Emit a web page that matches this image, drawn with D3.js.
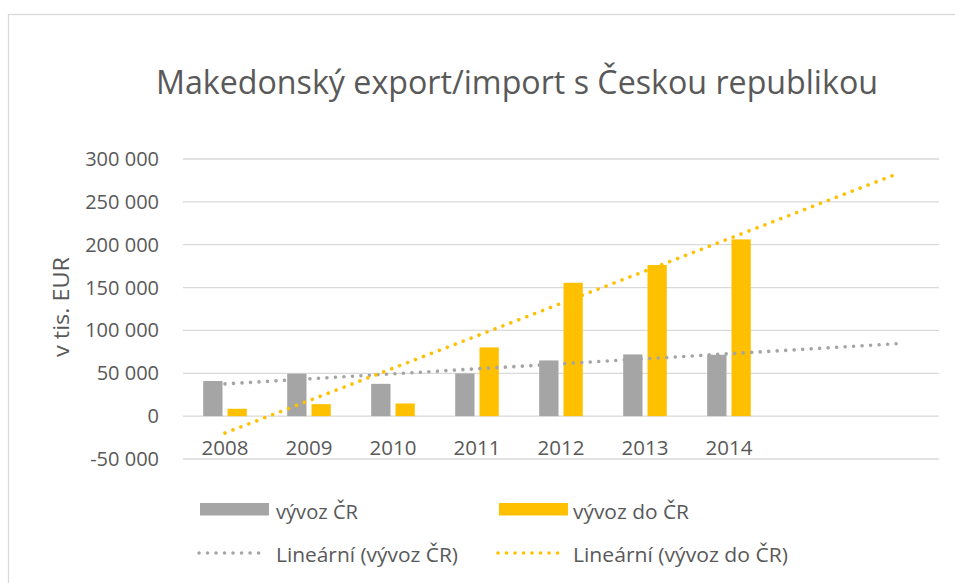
<!DOCTYPE html>
<html>
<head>
<meta charset="utf-8">
<script src="https://cdn.jsdelivr.net/npm/d3@7"></script>
<style>
  html, body { margin: 0; padding: 0; background: #ffffff; }
  svg { display: block; }
  text { font-family: "Open Sans", "DejaVu Sans", sans-serif; fill: #595959; }
</style>
</head>
<body>
<svg id="chart" width="955" height="583"></svg>
<script>
// ---- data ----
const years = ["2008", "2009", "2010", "2011", "2012", "2013", "2014"];
const exportCZ = [41000, 49500, 37700, 49800, 65000, 72000, 71600];      // vývoz ČR
const exportToCZ = [8600, 14000, 14800, 80200, 155600, 176300, 206200];  // vývoz do ČR
const forecastPeriods = 2;
const yTicks = [-50000, 0, 50000, 100000, 150000, 200000, 250000, 300000];
const titleText = "Makedonský export/import s Českou republikou";
const yAxisTitle = "v tis. EUR";
const seriesNames = ["vývoz ČR", "vývoz do ČR"];
const trendNames = ["Lineární (vývoz ČR)", "Lineární (vývoz do ČR)"];

// ---- styles ----
const GRAY = "#a5a5a5";
const YELLOW = "#ffc000";
const GRID = "#d9d9d9";

const svg = d3.select("#chart");

function fit(sel, target) {
  const w = sel.node().getComputedTextLength();
  if (Math.abs(w - target) > 1) {
    sel.attr("textLength", target).attr("lengthAdjust", "spacingAndGlyphs");
  }
  return sel;
}

// chart border (extends past the window on right and bottom)
svg.append("rect")
  .attr("x", 8.5).attr("y", 14.5)
  .attr("width", 1000).attr("height", 1000)
  .attr("fill", "none").attr("stroke", GRID).attr("stroke-width", 1.3);

// scales
const nSlots = years.length + forecastPeriods;
const x = d3.scaleBand().domain(d3.range(nSlots)).range([183, 939]).padding(0);
const y = d3.scaleLinear().domain([-50000, 300000]).range([459, 159]);

// gridlines
svg.append("g").selectAll("line").data(yTicks).join("line")
  .attr("x1", 183).attr("x2", 939)
  .attr("y1", d => y(d)).attr("y2", d => y(d))
  .attr("stroke", GRID).attr("stroke-width", 1.3);

// y tick labels
const fmt = v => (v < 0 ? "-" : "") + d3.format(",")(Math.abs(v)).replace(/,/g, " ");
svg.append("g").selectAll("text").data(yTicks).join("text")
  .attr("x", 159).attr("y", d => y(d) + 7)
  .attr("text-anchor", "end")
  .attr("font-size", 20)
  .text(fmt);

// y axis title
fit(svg.append("text")
  .attr("transform", "translate(68.5,307) rotate(-90)")
  .attr("text-anchor", "middle")
  .attr("font-size", 21)
  .text(yAxisTitle), 100);

// x labels
svg.append("g").selectAll("text").data(years).join("text")
  .attr("x", (d, i) => x(i) + x.bandwidth() / 2)
  .attr("y", y(0) + 39)
  .attr("text-anchor", "middle")
  .attr("font-size", 20.5)
  .text(d => d);

// bars
const barW = 19.3, innerGap = 5;
const series = [exportCZ, exportToCZ];
const colors = [GRAY, YELLOW];
series.forEach((vals, s) => {
  svg.append("g").selectAll("rect").data(vals).join("rect")
    .attr("x", (d, i) => x(i) + x.bandwidth() / 2 - barW - innerGap / 2 + s * (barW + innerGap))
    .attr("width", barW)
    .attr("y", d => y(Math.max(0, d)))
    .attr("height", d => Math.abs(y(d) - y(0)))
    .attr("fill", colors[s]);
});

// linear trendlines (least squares on the data), with forward forecast
function linreg(vals) {
  const n = vals.length;
  const xs = d3.range(n);
  const mx = d3.mean(xs), my = d3.mean(vals);
  const sxy = d3.sum(xs, (xi, i) => (xi - mx) * (vals[i] - my));
  const sxx = d3.sum(xs, xi => (xi - mx) * (xi - mx));
  const b = sxy / sxx;
  return { a: my - b * mx, b };
}
const lineGen = d3.line().x(d => x(d[0]) + x.bandwidth() / 2).y(d => y(d[1]));
series.forEach((vals, s) => {
  const r = linreg(vals);
  const pts = [[0, r.a], [nSlots - 1, r.a + r.b * (nSlots - 1)]];
  svg.append("path")
    .attr("d", lineGen(pts))
    .attr("fill", "none")
    .attr("stroke", colors[s])
    .attr("stroke-width", 3.6)
    .attr("stroke-linecap", "round")
    .attr("stroke-dasharray", "0.01 8.5");
});

// title
fit(svg.append("text")
  .attr("x", 517).attr("y", 94)
  .attr("text-anchor", "middle")
  .attr("font-size", 33.5)
  .text(titleText), 722);

// legend
const legCols = [200, 499];
const legText = [276, 573];
const nameW = [82, 116];
const trendW = [182, 215];
series.forEach((vals, s) => {
  svg.append("rect")
    .attr("x", legCols[s]).attr("y", 503)
    .attr("width", 69).attr("height", 12.5)
    .attr("fill", colors[s]);
  fit(svg.append("text")
    .attr("x", legText[s]).attr("y", 518.5)
    .attr("font-size", 20.5)
    .text(seriesNames[s]), nameW[s]);
  svg.append("line")
    .attr("x1", legCols[s] - 1).attr("x2", legCols[s] + 62)
    .attr("y1", 553).attr("y2", 553)
    .attr("stroke", colors[s]).attr("stroke-width", 3.6)
    .attr("stroke-linecap", "round")
    .attr("stroke-dasharray", "0.01 8.5");
  fit(svg.append("text")
    .attr("x", legText[s]).attr("y", 561.5)
    .attr("font-size", 20.5)
    .text(trendNames[s]), trendW[s]);
});
</script>
</body>
</html>
